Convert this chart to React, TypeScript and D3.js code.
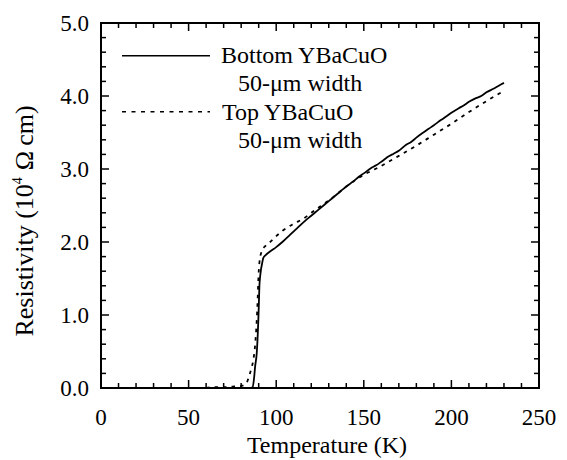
import React from "react";
import * as d3 from "d3";

// Bottom YBaCuO (solid)
const bottomT = [60, 70, 80, 85, 86.5, 87.3, 88.0, 88.9, 89.5, 89.8, 90.1, 90.4, 90.8, 91.3, 92.0, 92.6, 94.0, 96.5, 100, 104, 108, 112, 116, 120, 124, 127, 130, 134, 137, 140, 144, 147, 150, 154, 157, 160, 164, 167, 170, 174, 177, 180, 184, 187, 190, 194, 197, 200, 204, 207, 210, 214, 217, 220, 224, 227, 230];
const bottomR = [0.0, 0.0, 0.0, 0.0, 0.01, 0.12, 0.3, 0.48, 0.75, 0.93, 1.15, 1.39, 1.52, 1.62, 1.71, 1.78, 1.82, 1.87, 1.93, 2.01, 2.1, 2.19, 2.28, 2.36, 2.44, 2.5, 2.56, 2.64, 2.7, 2.76, 2.83, 2.89, 2.94, 3.01, 3.05, 3.1, 3.17, 3.21, 3.25, 3.33, 3.37, 3.43, 3.5, 3.55, 3.6, 3.67, 3.72, 3.77, 3.83, 3.87, 3.92, 3.97, 4.0, 4.05, 4.1, 4.14, 4.18];

// Top YBaCuO (dashed)
const topT = [60, 64, 70, 75, 80.3, 82.8, 85, 86, 86.9, 87.9, 88.9, 89.4, 89.8, 90.4, 91.7, 94, 96.5, 100, 104, 110, 115.5, 120, 130, 144, 150, 159, 170, 180, 190, 200, 210, 220, 230];
const topR = [0.0, 0.01, 0.01, 0.02, 0.03, 0.06, 0.2, 0.28, 0.38, 0.57, 0.93, 1.2, 1.48, 1.71, 1.87, 1.95, 2.0, 2.08, 2.16, 2.25, 2.32, 2.4, 2.57, 2.83, 2.92, 3.03, 3.18, 3.32, 3.47, 3.62, 3.78, 3.93, 4.07];

const xMajor = [0, 50, 100, 150, 200, 250];
const xMajorLabels = ["0", "50", "100", "150", "200", "250"];
const yMajor = [0, 1, 2, 3, 4, 5];
const yMajorLabels = ["0.0", "1.0", "2.0", "3.0", "4.0", "5.0"];

const FONT = "'Liberation Serif', 'Times New Roman', serif";

export default function App() {
  const L = 101, R = 539, T = 23, B = 388;
  const x = d3.scaleLinear().domain([0, 250]).range([L, R]);
  const y = d3.scaleLinear().domain([0, 5]).range([B, T]);

  const line = d3
    .line<[number, number]>()
    .x((d) => x(d[0]))
    .y((d) => y(d[1]))
    .curve(d3.curveMonotoneX);

  const bottomData: [number, number][] = bottomT.map((t, i) => [t, bottomR[i]]);
  const topData: [number, number][] = topT.map((t, i) => [t, topR[i]]);

  const xMinor = d3.range(0, 251, 10);
  const yMinor = d3.range(0, 5.01, 0.2);

  const tickStroke = { stroke: "#000", strokeWidth: 1.5 };

  return (
    <svg
      width={567}
      height={460}
      style={{ position: "absolute", left: 0, top: 0, background: "#fff" }}
      fontFamily={FONT}
    >
      <rect x={0} y={0} width={567} height={460} fill="#fff" />
      {xMinor.map((v) => {
        const major = Math.abs(v % 50) < 1e-6;
        const len = major ? 8 : 5;
        return (
          <g key={"xt" + v}>
            <line x1={x(v)} x2={x(v)} y1={B} y2={B - len} {...tickStroke} />
            <line x1={x(v)} x2={x(v)} y1={T} y2={T + len} {...tickStroke} />
          </g>
        );
      })}
      {yMinor.map((v, i) => {
        const major = i % 5 === 0;
        const len = major ? 8 : 5;
        return (
          <g key={"yt" + i}>
            <line x1={L} x2={L + len} y1={y(v)} y2={y(v)} {...tickStroke} />
            <line x1={R} x2={R - len} y1={y(v)} y2={y(v)} {...tickStroke} />
          </g>
        );
      })}
      <rect x={L} y={T} width={R - L} height={B - T} fill="none" stroke="#000" strokeWidth={2} />

      {xMajor.map((v, i) => (
        <text key={"xl" + v} x={x(v)} y={425} textAnchor="middle" fontSize={23}>
          {xMajorLabels[i]}
        </text>
      ))}
      {yMajor.map((v, i) => (
        <text key={"yl" + v} x={89} y={y(v) + 8} textAnchor="end" fontSize={23}>
          {yMajorLabels[i]}
        </text>
      ))}

      <text x={327} y={453} textAnchor="middle" fontSize={24}>
        Temperature (K)
      </text>
      <text transform={`translate(33,221) rotate(-90)`} textAnchor="middle" fontSize={26}>
        Resistivity (10
        <tspan fontSize={14} dy={-11}>4</tspan>
        <tspan dy={11} dx={7}>Ω</tspan>
        <tspan dx={5}>cm)</tspan>
      </text>

      <path d={line(bottomData) || ""} fill="none" stroke="#000" strokeWidth={1.8} />
      <path d={line(topData) || ""} fill="none" stroke="#000" strokeWidth={1.8} strokeDasharray="3.5 5" />

      <line x1={122} x2={210} y1={55.7} y2={55.7} stroke="#000" strokeWidth={1.5} />
      <text x={221} y={63} fontSize={24}>Bottom YBaCuO</text>
      <text x={238} y={91} fontSize={24}>50-μm width</text>
      <line x1={122} x2={210} y1={111.7} y2={111.7} stroke="#000" strokeWidth={1.5} strokeDasharray="4 5.5" />
      <text x={222} y={120} fontSize={24}>Top YBaCuO</text>
      <text x={238} y={148} fontSize={24}>50-μm width</text>
    </svg>
  );
}
